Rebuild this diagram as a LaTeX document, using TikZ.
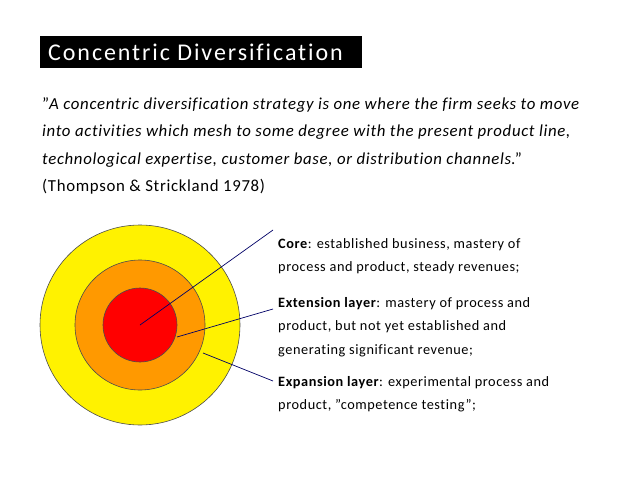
\documentclass[tikz,border=0pt]{standalone}
\usepackage{fontspec}
\setmainfont{Carlito}[LetterSpace=4,Ligatures={NoCommon}]
\newfontfamily\titlefont{Carlito}[LetterSpace=8,Ligatures={NoCommon}]
\newcommand{\qq}{\symbol{"22}}
\definecolor{midorange}{HTML}{FF9900}
\begin{document}
\begin{tikzpicture}[x=1pt,y=-1pt,
  ring/.style={draw=black!70,line width=0.6pt},
  lead/.style={draw=blue!40!black,line width=0.7pt},
  desc/.style={anchor=north west,align=left,font=\fontsize{14.3}{23.5}\selectfont,inner sep=0pt}]
\useasboundingbox (0,0) rectangle (638,479);
\fill[black] (40,36) rectangle (362,68);
\node[text=white,anchor=west,inner sep=0pt,font=\titlefont\fontsize{24}{24}\selectfont] (title) at (48,52) {Concentric Diversification};
\node[anchor=north west,align=left,inner sep=0pt,font=\fontsize{16.8}{27.5}\selectfont] (quote) at (42,97)
{\qq\textit{A concentric diversification strategy is one where the firm seeks to move}\\
\textit{into activities which mesh to some degree with the present product line,}\\
\textit{technological expertise, customer base, or distribution channels}.\qq\\
(Thompson \& Strickland 1978)};
\filldraw[ring,fill=yellow] (140,325) circle (100);
\filldraw[ring,fill=midorange] (140,325) circle (65);
\filldraw[ring,fill=red] (140,325) circle (37);
\coordinate (c1) at (140,325);
\coordinate (c2) at (177,337);
\coordinate (c3) at (203,353);
\node[desc] (core) at (278,238) {\textbf{Core}: established business, mastery of\\process and product, steady revenues;};
\node[desc] (ext) at (278,297) {\textbf{Extension layer}: mastery of process and\\product, but not yet established and\\generating significant revenue;};
\node[desc] (exp) at (278,376) {\textbf{Expansion layer}: experimental process and\\product, \qq competence testing\qq;};
\draw[lead] (c1) -- (273,230);
\draw[lead] (c2) -- (273,309);
\draw[lead] (c3) -- (273,381);
\end{tikzpicture}
\end{document}
